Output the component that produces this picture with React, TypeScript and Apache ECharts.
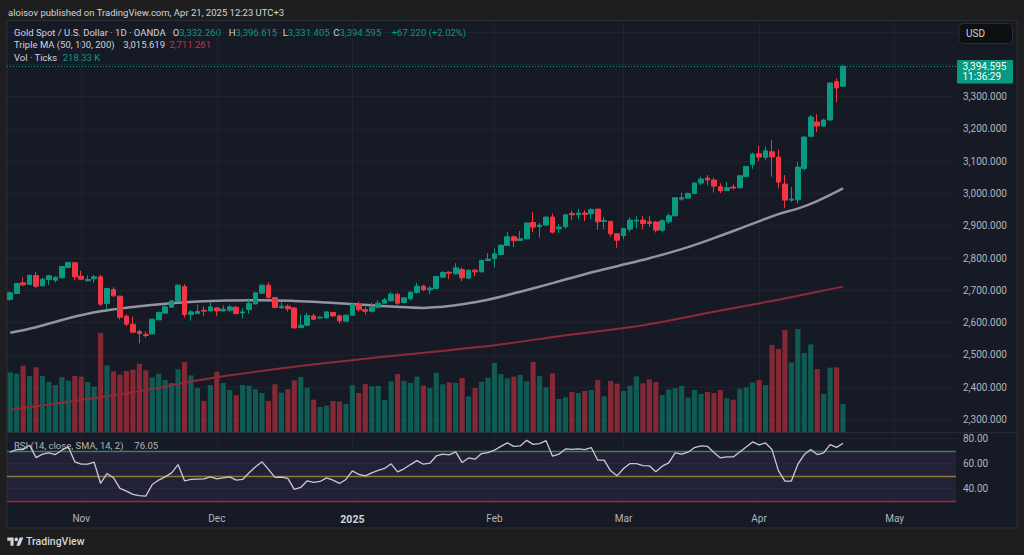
import React, { useEffect, useRef } from "react";
import * as echarts from "echarts";

// ---------- DATA ----------
const dates = [
  "2024-10-17","2024-10-18","2024-10-21","2024-10-22","2024-10-23","2024-10-24","2024-10-25","2024-10-28","2024-10-29","2024-10-30","2024-10-31",
  "2024-11-01","2024-11-04","2024-11-05","2024-11-06","2024-11-07","2024-11-08","2024-11-11","2024-11-12","2024-11-13","2024-11-14","2024-11-15","2024-11-18","2024-11-19","2024-11-20","2024-11-21","2024-11-22","2024-11-25","2024-11-26","2024-11-27","2024-11-28","2024-11-29",
  "2024-12-02","2024-12-03","2024-12-04","2024-12-05","2024-12-06","2024-12-09","2024-12-10","2024-12-11","2024-12-12","2024-12-13","2024-12-16","2024-12-17","2024-12-18","2024-12-19","2024-12-20","2024-12-23","2024-12-24","2024-12-26","2024-12-27","2024-12-30","2024-12-31",
  "2025-01-02","2025-01-03","2025-01-06","2025-01-07","2025-01-08","2025-01-09","2025-01-10","2025-01-13","2025-01-14","2025-01-15","2025-01-16","2025-01-17","2025-01-20","2025-01-21","2025-01-22","2025-01-23","2025-01-24","2025-01-27","2025-01-28","2025-01-29","2025-01-30","2025-01-31",
  "2025-02-03","2025-02-04","2025-02-05","2025-02-06","2025-02-07","2025-02-10","2025-02-11","2025-02-12","2025-02-13","2025-02-14","2025-02-17","2025-02-18","2025-02-19","2025-02-20","2025-02-21","2025-02-24","2025-02-25","2025-02-26","2025-02-27","2025-02-28",
  "2025-03-03","2025-03-04","2025-03-05","2025-03-06","2025-03-07","2025-03-10","2025-03-11","2025-03-12","2025-03-13","2025-03-14","2025-03-17","2025-03-18","2025-03-19","2025-03-20","2025-03-21","2025-03-24","2025-03-25","2025-03-26","2025-03-27","2025-03-28","2025-03-31",
  "2025-04-01","2025-04-02","2025-04-03","2025-04-04","2025-04-07","2025-04-08","2025-04-09","2025-04-10","2025-04-11","2025-04-14","2025-04-15","2025-04-16","2025-04-17","2025-04-21",
  "2025-04-22","2025-04-23","2025-04-24","2025-04-25","2025-04-28","2025-04-29","2025-04-30","2025-05-01","2025-05-02","2025-05-05","2025-05-06","2025-05-07","2025-05-08","2025-05-09","2025-05-12","2025-05-13","2025-05-14",
];

const opens = [
  2671.3,2690.0,2723.1,2717.9,2745.8,2713.7,2733.4,2731.3,2738.6,2770.6,
  2785.1,2743.7,2729.3,2735.5,2741.7,2658.9,2702.4,2681.7,2619.6,2594.8,
  2572.1,2562.8,2564.8,2608.2,2628.9,2647.5,2666.1,2711.0,2624.7,2627.8,
  2638.2,2636.1,2645.4,2636.1,2638.2,2647.5,2629.9,2640.3,2657.8,2690.9,
  2715.8,2677.5,2645.4,2650.6,2645.4,2584.4,2591.7,2620.6,2614.4,2614.4,
  2631.0,2620.6,2604.1,2622.7,2657.0,2640.0,2635.0,2646.5,2659.9,2667.2,
  2687.9,2662.0,2673.4,2693.0,2712.7,2701.3,2705.5,2740.6,2756.1,2750.9,
  2764.4,2737.5,2762.3,2757.1,2792.3,2798.5,2810.9,2838.8,2865.7,2854.4,
  2859.5,2910.2,2896.8,2902.0,2926.8,2890.6,2896.8,2938.2,2934.0,2939.2,
  2937.1,2951.6,2913.4,2913.4,2875.1,2869.9,2889.5,2914.4,2917.5,2912.3,
  2911.3,2886.4,2912.3,2930.9,2982.6,2985.7,3000.2,3032.3,3047.8,3041.6,
  3020.9,3009.5,3019.9,3017.8,3052.9,3090.2,3123.3,3111.9,3129.5,3112.9,
  3029.2,2979.5,2980.6,3077.8,3177.1,3221.6,3209.1,3227.7,3346.6,3332.26,
];
const highs = [
  2696.2,2723.0,2739.6,2747.9,2756.1,2738.6,2747.9,2743.7,2774.8,2788.2,
  2787.2,2760.3,2745.8,2747.9,2748.9,2708.6,2709.6,2682.7,2624.8,2617.6,
  2578.3,2572.1,2612.4,2635.1,2653.8,2670.3,2718.9,2718.9,2638.2,2655.8,
  2649.6,2663.0,2647.5,2652.7,2654.7,2650.6,2644.4,2674.4,2694.0,2718.9,
  2725.1,2679.6,2663.0,2655.8,2646.5,2624.7,2629.9,2627.8,2619.6,2635.1,
  2633.0,2624.7,2624.7,2660.0,2665.0,2649.0,2662.0,2669.2,2676.5,2695.1,
  2692.0,2678.6,2696.1,2723.0,2716.8,2712.7,2744.8,2760.3,2758.1,2784.0,
  2770.6,2764.4,2765.4,2795.4,2815.1,2829.5,2842.0,2880.2,2869.9,2884.4,
  2910.2,2942.3,2909.2,2928.8,2938.2,2905.1,2936.1,2946.4,2952.6,2948.5,
  2953.7,2952.6,2927.8,2915.4,2877.1,2893.7,2925.7,2929.9,2930.9,2929.9,
  2914.4,2920.6,2938.2,2987.8,3002.3,3002.3,3034.3,3052.0,3057.1,3048.8,
  3031.2,3035.4,3028.1,3057.1,3085.0,3126.4,3148.1,3145.0,3165.7,3135.7,
  3057.1,3019.9,3098.5,3177.1,3243.2,3245.3,3231.9,3343.6,3357.0,3396.615,
];
const lows = [
  2667.2,2689.0,2712.7,2716.8,2706.5,2712.7,2716.8,2724.1,2737.5,2769.6,
  2730.3,2733.4,2728.2,2723.0,2650.7,2640.3,2679.6,2609.3,2588.6,2568.9,
  2535.9,2553.4,2563.8,2607.2,2627.9,2646.5,2664.1,2615.4,2605.1,2625.8,
  2620.6,2634.1,2620.6,2634.1,2633.0,2624.7,2612.3,2626.8,2655.8,2689.9,
  2674.4,2645.4,2643.4,2634.1,2581.3,2582.3,2588.6,2607.2,2610.3,2612.3,
  2617.5,2596.8,2602.0,2620.0,2633.0,2625.0,2631.0,2643.4,2657.8,2665.1,
  2654.8,2658.9,2669.2,2689.9,2697.2,2687.9,2702.3,2739.6,2734.4,2748.9,
  2728.2,2734.4,2743.7,2755.1,2790.2,2770.6,2808.9,2837.8,2833.7,2852.3,
  2858.5,2880.2,2862.7,2899.9,2876.1,2877.1,2890.6,2917.5,2920.6,2914.4,
  2919.5,2886.4,2889.5,2865.8,2831.6,2858.5,2881.3,2891.6,2889.5,2896.8,
  2879.2,2879.2,2905.1,2928.8,2977.5,2983.7,2997.1,3026.1,3025.0,3003.2,
  3001.2,3007.4,3011.6,3015.7,3050.9,3076.7,3100.5,3103.6,3051.9,3015.7,
  2955.7,2974.3,2969.2,3070.5,3175.0,3190.5,3208.1,3226.7,3282.5,3331.405,
];
const closes = [
  2692.0,2721.0,2716.8,2746.8,2712.7,2734.4,2744.8,2740.6,2773.7,2786.1,
  2741.7,2734.4,2733.4,2741.7,2656.9,2705.5,2682.7,2616.5,2594.8,2570.0,
  2565.9,2559.6,2610.3,2631.0,2648.6,2667.2,2715.8,2624.7,2633.0,2634.1,
  2635.1,2648.5,2636.1,2641.3,2648.5,2627.8,2633.0,2658.9,2692.0,2715.8,
  2677.5,2646.5,2650.6,2642.3,2583.4,2591.7,2621.6,2610.3,2616.5,2633.0,
  2620.6,2605.1,2622.7,2656.8,2640.0,2635.0,2646.5,2659.9,2670.3,2687.9,
  2659.9,2676.5,2694.1,2712.7,2701.3,2706.5,2742.7,2755.1,2753.0,2769.6,
  2738.6,2762.3,2757.1,2792.3,2796.4,2813.0,2839.9,2865.7,2853.3,2859.5,
  2908.2,2895.8,2902.0,2926.8,2880.2,2895.8,2934.0,2934.0,2939.2,2935.0,
  2950.6,2912.3,2916.4,2875.1,2855.4,2891.6,2917.5,2917.5,2907.1,2907.1,
  2886.4,2915.4,2930.9,2986.8,2986.8,3000.2,3032.3,3044.7,3041.6,3023.0,
  3008.5,3017.8,3016.8,3055.0,3084.0,3122.2,3112.9,3132.6,3113.0,3035.4,
  2979.5,2982.6,3081.9,3175.0,3237.0,3209.1,3227.7,3342.5,3327.375,3394.595,
];

// tick volume, thousands
const volumes = [
  462.6,452.3,514.0,434.3,501.2,434.3,388.0,364.8,424.0,398.3,
  434.3,429.1,388.0,352.0,766.1,516.6,470.3,444.6,472.9,483.2,
  529.4,478.0,424.0,452.3,403.4,380.3,485.7,542.3,439.4,341.7,
  241.4,364.8,467.7,380.3,326.3,285.1,364.8,359.7,331.4,303.1,
  241.4,370.0,305.7,334.0,400.8,426.6,344.3,251.7,195.1,205.4,
  241.4,238.8,218.2,362.3,303.1,372.6,354.6,357.1,249.1,393.1,
  449.7,395.7,382.8,429.1,359.7,341.7,460.0,370.0,385.4,380.3,
  418.9,277.4,341.7,390.6,421.4,534.6,449.7,416.3,429.1,442.0,
  393.1,542.3,434.3,346.8,454.9,256.8,269.7,310.8,303.1,318.5,
  326.3,403.4,277.4,395.7,375.1,318.5,359.7,431.7,377.7,408.6,
  388.0,287.7,331.4,341.7,357.1,267.1,326.3,295.4,310.8,303.1,
  326.3,262.0,251.7,336.6,346.8,385.4,403.4,364.8,673.5,642.6,
  789.2,539.7,797.0,611.8,678.6,488.3,295.4,498.6,501.2,218.33,
];

const rsiValues = [
  68.9,71.0,71.0,74.4,64.6,67.3,68.3,67.0,70.5,73.1,
  61.2,59.3,59.3,60.9,43.9,51.9,48.4,39.9,37.8,35.1,
  34.1,33.8,43.1,46.6,49.2,52.4,59.0,46.0,47.1,47.4,
  47.6,49.2,47.6,48.4,49.2,46.6,47.1,52.4,57.2,61.2,
  55.1,48.7,48.9,47.9,39.1,40.7,46.0,44.7,45.5,48.4,
  46.6,43.9,47.1,54.0,51.1,50.0,52.4,54.3,55.9,59.6,
  53.2,55.6,59.0,62.2,59.3,60.1,65.9,67.3,66.7,69.1,
  60.6,64.3,63.3,67.8,68.6,70.5,73.6,76.3,73.6,73.9,
  78.4,75.2,75.8,78.1,65.7,67.3,71.5,71.2,71.5,71.0,
  72.6,62.5,62.5,54.0,50.0,55.9,59.8,59.8,58.2,58.0,
  53.2,57.7,60.4,68.3,67.3,68.9,72.6,73.9,73.6,68.6,
  64.3,65.1,65.1,69.1,73.1,77.1,74.7,76.3,71.0,54.0,
  45.8,45.8,59.3,67.0,71.0,67.0,68.3,75.0,72.8,76.05,
];

// moving averages read at selected bars: [bar index, value]
const ma50Points = [
  [0, 2568.4],[4, 2585.4],[9, 2613.4],[14, 2635.0],[19, 2648.4],[24, 2658.4],[29, 2665.2],
  [34, 2668.3],[39, 2669.2],[44, 2667.0],[49, 2662.1],[54, 2655.9],[59, 2649.7],[64, 2645.3],
  [67, 2649.0],[69, 2653.7],[74, 2670.8],[79, 2695.6],[84, 2722.0],[89, 2749.9],[94, 2774.7],
  [99, 2799.5],[104, 2827.5],[109, 2861.6],[114, 2898.8],[119, 2936.1],[122, 2953.1],[125, 2976.4],
  [129, 3015.619],
];
const ma200Points = [
  [0, 2329.5],[19, 2383.8],[32, 2430.3],[50, 2476.9],[64, 2506.3],[75, 2529.6],
  [85, 2557.5],[98, 2591.6],[109, 2633.2],[119, 2670.8],[129, 2711.261],
];

const priceTicks = [2300, 2400, 2500, 2600, 2700, 2800, 2900, 3000, 3100, 3200, 3300, 3400, 3500];
const priceLabelTicks = [2300, 2400, 2500, 2600, 2700, 2800, 2900, 3000, 3100, 3200, 3300];
const rsiTicks = [40, 60, 80];
const rsiLevels = [70, 50, 30];

const headerText = "aloisov published on TradingView.com, Apr 21, 2025 12:23 UTC+3";
const symbolTitle = "Gold Spot / U.S. Dollar · 1D · OANDA";
const maTitle = "Triple MA (50, 100, 200)";
const volTitle = "Vol · Ticks";
const rsiTitle = "RSI (14, close, SMA, 14, 2)";
const countdown = "11:36:29";
const currency = "USD";
const brand = "TradingView";
const monthNames = ["Jan","Feb","Mar","Apr","May","Jun","Jul","Aug","Sep","Oct","Nov","Dec"];

// ---------- STYLE ----------
const GREEN = "#089981";
const RED = "#f23645";
const TEXT = "#d1d4dc";
const AXIS_TEXT = "#b2b5be";
const GRID = "#1f2330";
const BORDER = "#2a2e39";
const OUTER = "#1e1e1e";
const PANEL = "#161a25";
const FONT = 'Roboto, "Noto Sans", Arial, sans-serif';

try {
  echarts.graphic.registerShape(
    "tvlogo",
    echarts.graphic.extendPath("M14 22H7V11H0V4h14v18zM28 22h-8l7.5-18h8L28 22z", {})
  );
} catch (e) {
  // already registered
}

function fmt(v: number, d: number) {
  return v.toLocaleString("en-US", { minimumFractionDigits: d, maximumFractionDigits: d });
}

const monthStarts: number[] = [];
dates.forEach((d, i) => {
  if (i > 0 && d.slice(5, 7) !== dates[i - 1].slice(5, 7)) monthStarts.push(i);
});
const monthStartSet = new Set(monthStarts);

function text(x: number, y: number, str: string, fill: string, size = 9.5, extra: any = {}) {
  return {
    type: "text",
    x,
    y,
    silent: true,
    style: {
      text: str,
      fill,
      fontSize: size,
      fontFamily: FONT,
      verticalAlign: "middle",
      align: "left",
      ...extra,
    },
  };
}

function richText(x: number, y: number, str: string, size = 9.5) {
  const part = (fill: string) => ({ fill, fontSize: size, fontFamily: FONT });
  return {
    type: "text",
    x,
    y,
    silent: true,
    style: {
      text: str,
      fontSize: size,
      fontFamily: FONT,
      verticalAlign: "middle",
      align: "left",
      rich: { w: part(TEXT), g: part(GREEN), r: part("#c8313e") },
    },
  };
}

export default function App() {
  const ref = useRef<HTMLDivElement>(null);

  useEffect(() => {
    if (!ref.current) return;
    const chart = echarts.init(ref.current, null, { renderer: "svg" });

    const n = closes.length;
    const up = closes.map((c, i) => c >= opens[i]);
    const candleData = opens.map((o, i) => [o, closes[i], lows[i], highs[i]]);
    const volData = volumes.map((v, i) => ({
      value: v,
      itemStyle: { color: up[i] ? "rgba(8,153,129,0.5)" : "rgba(242,54,69,0.5)" },
    }));
    const lastClose = closes[n - 1];
    const prevClose = closes[n - 2];
    const change = lastClose - prevClose;
    const pct = (change / prevClose) * 100;

    const monthLines = monthStarts.map((i) => ({ xAxis: dates[i] }));

    const option: any = {
      animation: false,
      backgroundColor: PANEL,
      textStyle: { fontFamily: FONT },
      grid: [
        { left: 7, top: 20, width: 949, height: 412.3 },
        { left: 7, top: 20, width: 949, height: 412.3 },
        { left: 7, top: 432.7, width: 949, height: 74 },
      ],
      xAxis: [0, 1, 2].map((g) => ({
        type: "category",
        gridIndex: g,
        data: dates,
        boundaryGap: true,
        axisLine: { show: false },
        axisTick: { show: false },
        splitLine: { show: false },
        axisLabel:
          g === 2
            ? {
                show: true,
                interval: (index: number) => monthStartSet.has(index),
                formatter: (value: string) => {
                  const m = parseInt(value.slice(5, 7), 10);
                  return m === 1 ? "{y|" + value.slice(0, 4) + "}" : monthNames[m - 1];
                },
                color: AXIS_TEXT,
                fontSize: 10,
                fontFamily: FONT,
                margin: 7,
                rich: {
                  y: { fontWeight: "bold", color: TEXT, fontSize: 10.5, fontFamily: FONT },
                },
              }
            : { show: false },
      })),
      yAxis: [
        {
          type: "value",
          gridIndex: 0,
          position: "right",
          min: 2259.7,
          max: 3537.8,
          axisLine: { show: false },
          axisTick: { show: false, customValues: priceTicks },
          axisLabel: {
            customValues: priceLabelTicks,
            formatter: (v: number) => fmt(v, 3),
            color: AXIS_TEXT,
            fontSize: 10,
            fontFamily: FONT,
            margin: 7,
          },
          splitLine: { show: true, lineStyle: { color: GRID, width: 1 } },
        },
        {
          type: "value",
          gridIndex: 1,
          min: 0,
          max: 3181,
          show: false,
          splitLine: { show: false },
        },
        {
          type: "value",
          gridIndex: 2,
          position: "right",
          min: 25.3,
          max: 84.5,
          axisLine: { show: false },
          axisTick: { show: false, customValues: rsiTicks },
          axisLabel: {
            customValues: rsiTicks,
            formatter: (v: number) => v.toFixed(2),
            color: AXIS_TEXT,
            fontSize: 10,
            fontFamily: FONT,
            margin: 7,
          },
          splitLine: { show: true, lineStyle: { color: GRID, width: 1 } },
        },
      ],
      series: [
        {
          type: "bar",
          name: "Volume",
          xAxisIndex: 1,
          yAxisIndex: 1,
          data: volData,
          barWidth: "80%",
          z: 2,
          markLine: {
            silent: true,
            z: 1,
            symbol: ["none", "none"],
            label: { show: false },
            lineStyle: { color: GRID, width: 1, type: "solid" },
            data: monthLines,
          },
        },
        {
          type: "line",
          name: "MA200",
          xAxisIndex: 0,
          yAxisIndex: 0,
          data: ma200Points,
          smooth: 0.4,
          showSymbol: false,
          lineStyle: { color: "#8e2a35", width: 2 },
          z: 3,
        },
        {
          type: "line",
          name: "MA50",
          xAxisIndex: 0,
          yAxisIndex: 0,
          data: ma50Points,
          smooth: 0.4,
          showSymbol: false,
          lineStyle: { color: "#9295a0", width: 2.5 },
          z: 3,
        },
        {
          type: "candlestick",
          name: "Gold",
          xAxisIndex: 0,
          yAxisIndex: 0,
          data: candleData,
          barWidth: "80%",
          z: 4,
          itemStyle: {
            color: GREEN,
            color0: RED,
            borderColor: GREEN,
            borderColor0: RED,
            borderWidth: 1,
          },
          markLine: {
            silent: true,
            symbol: ["none", "none"],
            label: { show: false },
            lineStyle: { color: GREEN, width: 1, type: [1, 2] },
            data: [{ yAxis: lastClose }],
          },
        },
        {
          type: "line",
          name: "RSI",
          xAxisIndex: 2,
          yAxisIndex: 2,
          data: rsiValues,
          showSymbol: false,
          lineStyle: { color: "#c9cacf", width: 1.3 },
          z: 4,
          markArea: {
            silent: true,
            z: 0,
            itemStyle: { color: "rgba(126,87,194,0.12)" },
            data: [[{ yAxis: rsiLevels[2] }, { yAxis: rsiLevels[0] }]],
          },
          markLine: {
            silent: true,
            z: 1,
            symbol: ["none", "none"],
            label: { show: false },
            data: [
              ...monthLines.map((m) => ({ ...m, lineStyle: { color: GRID, width: 1, type: "solid" } })),
              { yAxis: rsiLevels[0], lineStyle: { color: "#427f4e", width: 1.4, type: "solid" } },
              { yAxis: rsiLevels[1], lineStyle: { color: "#8a7b38", width: 1.4, type: "solid" } },
              { yAxis: rsiLevels[2], lineStyle: { color: "#b42337", width: 1.4, type: "solid" } },
            ],
          },
        },
      ],
    };

    chart.setOption(option);

    const yTag = chart.convertToPixel({ yAxisIndex: 0 }, lastClose) as number;
    const ma50Last = ma50Points[ma50Points.length - 1][1];
    const ma200Last = ma200Points[ma200Points.length - 1][1];
    const rsiLast = rsiValues[rsiValues.length - 1];
    const volLast = volumes[volumes.length - 1];

    const graphic: any[] = [
      // outer frame
      { type: "rect", silent: true, shape: { x: 0, y: 0, width: 1024, height: 20.5 }, style: { fill: OUTER } },
      { type: "rect", silent: true, shape: { x: 0, y: 528, width: 1024, height: 27 }, style: { fill: OUTER } },
      { type: "rect", silent: true, shape: { x: 0, y: 0, width: 7, height: 555 }, style: { fill: OUTER } },
      { type: "rect", silent: true, shape: { x: 1017, y: 0, width: 7, height: 555 }, style: { fill: OUTER } },
      {
        type: "rect",
        silent: true,
        shape: { x: 7, y: 20.5, width: 1010, height: 507.5 },
        style: { fill: "none", stroke: BORDER, lineWidth: 1 },
      },
      {
        type: "line",
        silent: true,
        shape: { x1: 7, y1: 432.7, x2: 1017, y2: 432.7 },
        style: { stroke: BORDER, lineWidth: 1 },
      },
      // header
      text(8, 12.3, headerText, TEXT, 9.5),
      // legend line 1
      text(14, 32.7, symbolTitle, TEXT, 9.5),
      richText(172.7, 32.7, "{w|O}{g|" + fmt(opens[n - 1], 3) + "}"),
      richText(228.7, 32.7, "{w|H}{g|" + fmt(highs[n - 1], 3) + "}"),
      richText(282.7, 32.7, "{w|L}{g|" + fmt(lows[n - 1], 3) + "}"),
      richText(333.3, 32.7, "{w|C}{g|" + fmt(lastClose, 3) + "}"),
      richText(391.7, 32.7, "{g|" + (change >= 0 ? "+" : "") + fmt(change, 3) + " (" + (pct >= 0 ? "+" : "") + pct.toFixed(2) + "%)}"),
      // legend line 2
      text(14, 44.7, maTitle, TEXT, 9.5),
      text(123.3, 44.7, fmt(ma50Last, 3), TEXT, 9.5),
      text(169.3, 44.7, fmt(ma200Last, 3), "#c8313e", 9.5),
      // legend line 3
      text(14, 57.7, volTitle, TEXT, 9.5),
      text(62.7, 57.7, volLast.toFixed(2) + " K", GREEN, 9.5),
      // RSI legend
      text(14, 445, rsiTitle, AXIS_TEXT, 9.5),
      text(134.3, 445, rsiLast.toFixed(2), AXIS_TEXT, 9.5),
      // USD box
      {
        type: "rect",
        silent: true,
        shape: { x: 959, y: 23.5, width: 53.5, height: 20, r: 4 },
        style: { fill: "#0e0f12", stroke: "#2c2d31", lineWidth: 1 },
      },
      text(966, 33.5, currency, TEXT, 10),
      // last price tag
      {
        type: "rect",
        silent: true,
        shape: { x: 957, y: yTag - 6.2, width: 56, height: 23.4, r: 1 },
        style: { fill: GREEN },
      },
      text(962.5, yTag, fmt(lastClose, 3), "#ffffff", 10),
      text(962.5, yTag + 10.8, countdown, "#ffffff", 10),
      // bottom brand
      {
        type: "tvlogo",
        silent: true,
        x: 7.3,
        y: 535.8,
        scaleX: 0.45,
        scaleY: 0.45,
        style: { fill: TEXT },
      },
      {
        type: "circle",
        silent: true,
        shape: { cx: 7.3 + 20 * 0.45, cy: 535.8 + 8 * 0.45, r: 4 * 0.45 },
        style: { fill: TEXT },
      },
      text(26, 541.5, brand, TEXT, 10.5, { fontWeight: 500 }),
    ];

    chart.setOption({ graphic });

    return () => {
      chart.dispose();
    };
  }, []);

  return (
    <div
      ref={ref}
      style={{ position: "fixed", left: 0, top: 0, width: 1024, height: 555 }}
    />
  );
}
